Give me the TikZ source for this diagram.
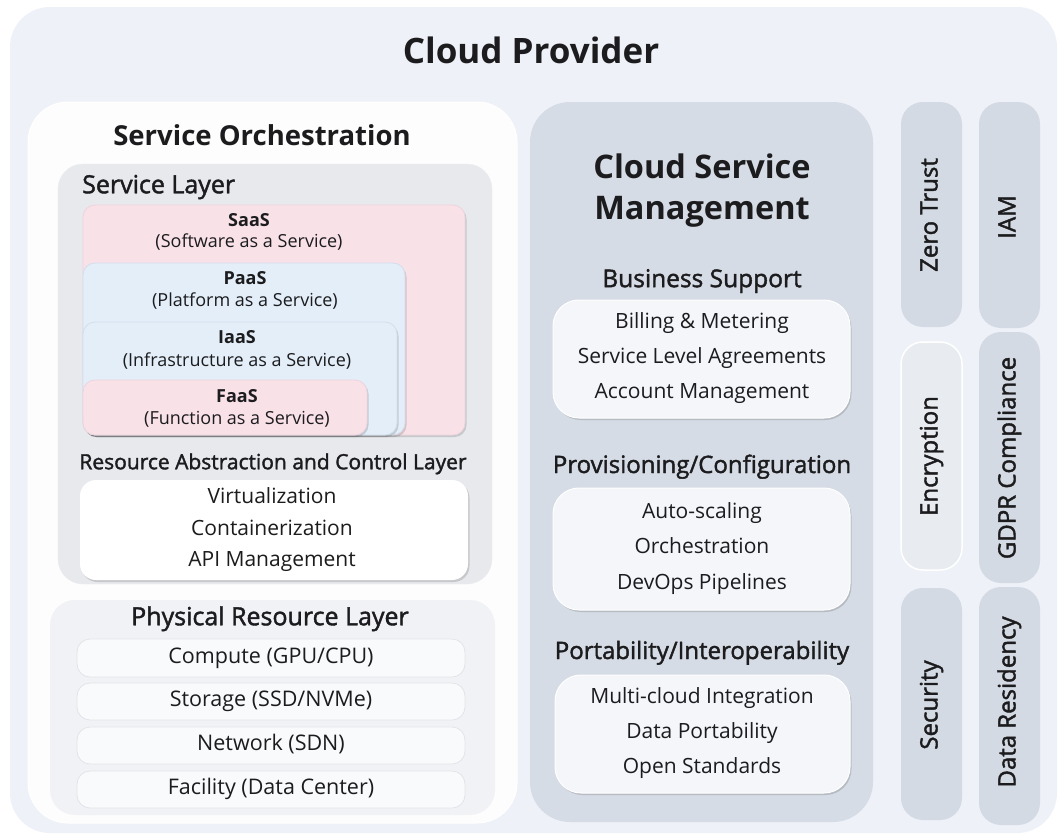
\documentclass[tikz,border=0pt]{standalone}
\usepackage{fontspec}
\setmainfont{Open Sans}
\newfontfamily\medf{Open Sans}[FakeBold=1.7]
\usetikzlibrary{shadows}
\definecolor{ink}{HTML}{1C1C1E}
\definecolor{outerbg}{HTML}{EEF1F7}
\definecolor{orchbg}{HTML}{FDFDFE}
\definecolor{layerbg}{HTML}{E7E9ED}
\definecolor{physbg}{HTML}{F1F2F5}
\definecolor{rowbg}{HTML}{F9FAFB}
\definecolor{rowline}{HTML}{E2E4E9}
\definecolor{pinkbg}{HTML}{F9E1E8}
\definecolor{pinkline}{HTML}{EDD3DC}
\definecolor{bluebg}{HTML}{E3EEF9}
\definecolor{blueline}{HTML}{D3DEEB}
\definecolor{midbg}{HTML}{D6DCE5}
\definecolor{midbox}{HTML}{F4F6F9}
\definecolor{pillbg}{HTML}{D4DAE3}
\definecolor{encbg}{HTML}{E8EBF0}
\newcommand{\rbox}[6]{\node[#2, minimum width={#5-#3}, minimum height={#6-#4}, inner sep=0pt] (#1) at ({(#3+#5)/2},{(#4+#6)/2}) {};}
\tikzset{
  lbl/.style={text=ink, inner sep=0pt, font=\fontsize{#1}{#1}\selectfont, text height={0.72*#1}, text depth={0.22*#1}},
  blbl/.style={lbl=#1, font=\fontsize{#1}{#1}\selectfont\bfseries},
  mlbl/.style={lbl=#1, font=\medf\fontsize{#1}{#1}\selectfont},
  soft/.style={drop shadow={shadow xshift=1.5pt, shadow yshift=-2pt, opacity=0.14, fill=black}},
  outerbox/.style={fill=outerbg, rounded corners=40pt},
  orchbox/.style={fill=orchbg, draw=white, line width=1pt, rounded corners=40pt},
  layerbox/.style={fill=layerbg, rounded corners=25pt, draw=layerbg!80!white},
  physbox/.style={fill=physbg, rounded corners=25pt},
  rowbox/.style={fill=rowbg, draw=rowline, line width=0.8pt, rounded corners=13pt},
  pinkbox/.style={fill=pinkbg, draw=pinkline, line width=0.8pt, rounded corners=12pt, soft},
  bluebox/.style={fill=bluebg, draw=blueline, line width=0.8pt, rounded corners=12pt, soft},
  whitebox/.style={fill=white, rounded corners=16pt, soft},
  midcol/.style={fill=midbg, rounded corners=40pt},
  midinner/.style={fill=midbox, draw=white, line width=1pt, rounded corners=26pt, soft},
  pill/.style={fill=pillbg, rounded corners=22pt},
  encpill/.style={fill=encbg, draw=white, line width=1.5pt, rounded corners=22pt},
}
\begin{document}
\begin{tikzpicture}[x=1pt,y=-1pt]
\useasboundingbox[fill=white] (0,0) rectangle (1063,836);
% outer
\rbox{outer}{outerbox}{10}{7}{1057}{833}
\node[blbl=35] (title) at (531,55) {Cloud Provider};
% service orchestration
\rbox{orch}{orchbox}{28}{102}{517}{823}
\node[blbl=27.5] (orchT) at (262,139) {Service Orchestration};
\rbox{slayer}{layerbox}{58}{164}{492}{584}
\node[mlbl=25, anchor=west] (slayerT) at (82,187) {Service Layer};
\rbox{saas}{pinkbox}{83}{205}{465}{435}
\rbox{paas}{bluebox}{83}{263}{405}{435}
\rbox{iaas}{bluebox}{83}{322}{397}{435}
\rbox{faas}{pinkbox}{83}{380}{367}{435}
\node[blbl=18] (saasA) at (249,222) {SaaS};
\node[lbl=18] (saasB) at (249,243) {(Software as a Service)};
\node[blbl=18] (paasA) at (245,280) {PaaS};
\node[lbl=18] (paasB) at (245,302) {(Platform as a Service)};
\node[blbl=18] (iaasA) at (237,339) {IaaS};
\node[lbl=18] (iaasB) at (237,362) {(Infrastructure as a Service)};
\node[blbl=18] (faasA) at (237,398) {FaaS};
\node[lbl=18] (faasB) at (237,420) {(Function as a Service)};
\node[mlbl=21] (racT) at (273,464) {Resource Abstraction and Control Layer};
\rbox{rac}{whitebox}{80}{480}{468}{580}
\node[lbl=21] (racA) at (272,498) {Virtualization};
\node[lbl=21] (racB) at (272,530) {Containerization};
\node[lbl=21] (racC) at (272,561) {API Management};
% physical
\rbox{phys}{physbox}{50}{600}{495}{815}
\node[mlbl=25] (physT) at (270,619) {Physical Resource Layer};
\rbox{r1}{rowbox}{77}{639}{465}{677}
\rbox{r2}{rowbox}{77}{683}{465}{720}
\rbox{r3}{rowbox}{77}{727}{465}{764}
\rbox{r4}{rowbox}{77}{771}{465}{808}
\node[lbl=21.5] (r1T) at (r1) {Compute (GPU/CPU)};
\node[lbl=21.5] (r2T) at (r2) {Storage (SSD/NVMe)};
\node[lbl=21.5] (r3T) at (r3) {Network (SDN)};
\node[lbl=21.5] (r4T) at (r4) {Facility (Data Center)};
% cloud service management
\rbox{csm}{midcol}{530}{102}{873}{822}
\node[blbl=32.5] (csmA) at (702,170) {Cloud Service};
\node[blbl=32.5] (csmB) at (702,211) {Management};
\node[mlbl=24.5] (bsT) at (702,281) {Business Support};
\rbox{bs}{midinner}{553}{300}{850}{418}
\node[lbl=21] (bsA) at (702,323) {Billing \& Metering};
\node[lbl=21] (bsB) at (702,358) {Service Level Agreements};
\node[lbl=21] (bsC) at (702,393) {Account Management};
\node[mlbl=24] (pcT) at (702,467) {Provisioning/Configuration};
\rbox{pc}{midinner}{553}{488}{850}{610}
\node[lbl=21] (pcA) at (702,513) {Auto-scaling};
\node[lbl=21] (pcB) at (702,548) {Orchestration};
\node[lbl=21] (pcC) at (702,584) {DevOps Pipelines};
\node[mlbl=24] (piT) at (702,653) {Portability/Interoperability};
\rbox{pi}{midinner}{555}{675}{850}{793}
\node[lbl=21] (piA) at (702,698) {Multi-cloud Integration};
\node[lbl=21] (piB) at (702,733) {Data Portability};
\node[lbl=21] (piC) at (702,768) {Open Standards};
% right pills
\rbox{zt}{pill}{901}{102}{962}{327}
\rbox{iam}{pill}{979}{102}{1040}{328}
\rbox{enc}{encpill}{901}{342}{962}{570}
\rbox{gdpr}{pill}{979}{332}{1040}{583}
\rbox{sec}{pill}{901}{588}{962}{820}
\rbox{dr}{pill}{979}{587}{1040}{825}
\node[mlbl=24, rotate=90] (ztT) at (931.5,215) {Zero Trust};
\node[mlbl=24, rotate=90] (iamT) at (1009.5,217) {IAM};
\node[mlbl=24, rotate=90] (encT) at (931.5,456) {Encryption};
\node[mlbl=24, rotate=90] (gdprT) at (1009.5,458) {GDPR Compliance};
\node[mlbl=24, rotate=90] (secT) at (931.5,705) {Security};
\node[mlbl=24, rotate=90] (drT) at (1009.5,702) {Data Residency};
\end{tikzpicture}
\end{document}
